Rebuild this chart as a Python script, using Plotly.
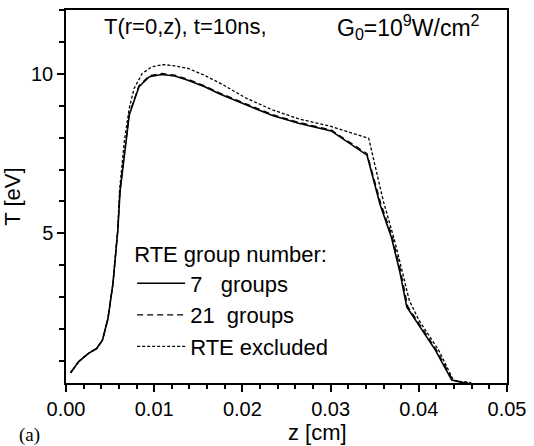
import plotly.graph_objects as go

# ---- data ----
z_7 = [0.00052, 0.00144, 0.00255, 0.00347, 0.00413, 0.00476, 0.00532, 0.00587, 0.00613,
       0.00717, 0.00828, 0.00945, 0.01086, 0.01233, 0.01382, 0.01566, 0.01751, 0.01972,
       0.02047, 0.02341, 0.02637, 0.03006, 0.03413, 0.0356, 0.0369, 0.03782, 0.03864,
       0.03967, 0.04188, 0.04373, 0.04484, 0.0455]
T_7 = [0.63, 0.98, 1.24, 1.39, 1.65, 2.33, 3.42, 5.08, 6.32,
       8.71, 9.60, 9.91, 9.98, 9.93, 9.80, 9.60, 9.36, 9.11,
       9.02, 8.69, 8.45, 8.21, 7.45, 5.91, 4.87, 3.83, 2.69,
       2.27, 1.34, 0.40, 0.33, 0.32]

z_21 = [0.00052, 0.00144, 0.00255, 0.00347, 0.00413, 0.00476, 0.00532, 0.00587, 0.00613,
        0.00717, 0.00828, 0.00945, 0.01086, 0.01233, 0.01382, 0.01566, 0.01751, 0.01972,
        0.02047, 0.02341, 0.02637, 0.03006, 0.03413, 0.0357, 0.0370, 0.03792, 0.03874,
        0.03977, 0.04198, 0.04383, 0.04494, 0.0456]
T_21 = [0.63, 0.98, 1.24, 1.39, 1.65, 2.33, 3.42, 5.10, 6.35,
        8.74, 9.63, 9.94, 10.01, 9.96, 9.83, 9.63, 9.39, 9.14,
        9.05, 8.72, 8.48, 8.24, 7.50, 5.93, 4.89, 3.85, 2.71,
        2.29, 1.36, 0.41, 0.33, 0.32]

z_ex = [0.00052, 0.00144, 0.00255, 0.00347, 0.00413, 0.00476, 0.00532, 0.00587, 0.00606,
        0.00661, 0.00717, 0.00772, 0.00864, 0.00975, 0.01105, 0.01233, 0.01382, 0.01566,
        0.01751, 0.01972, 0.02047, 0.02341, 0.02637, 0.03006, 0.03432, 0.03598, 0.03726,
        0.03819, 0.03892, 0.04003, 0.04225, 0.04391, 0.0445, 0.04595]
T_ex = [0.63, 0.98, 1.24, 1.39, 1.65, 2.33, 3.42, 5.10, 6.32,
        7.88, 8.92, 9.54, 10.01, 10.22, 10.29, 10.25, 10.17, 9.96,
        9.70, 9.36, 9.23, 8.87, 8.59, 8.35, 7.98, 6.01, 4.77,
        3.73, 2.90, 2.27, 1.34, 0.40, 0.36, 0.32]

names = ["7\u00a0\u00a0\u00a0groups", "21\u00a0\u00a0groups", "RTE excluded"]
legend_title = "RTE group number:"
title_left = "T(r=0,z), t=10ns,"
title_right = "G<sub>0</sub>=10<sup>9</sup>W/cm<sup>2</sup>"

FONT = "Liberation Sans, Arial, sans-serif"

fig = go.Figure()
fig.add_trace(go.Scatter(x=z_7, y=T_7, mode="lines", name=names[0],
                         line=dict(color="black", width=1.6, dash="solid")))
fig.add_trace(go.Scatter(x=z_21, y=T_21, mode="lines", name=names[1],
                         line=dict(color="black", width=1.3, dash="6px,4px")))
fig.add_trace(go.Scatter(x=z_ex, y=T_ex, mode="lines", name=names[2],
                         line=dict(color="black", width=1.3, dash="3px,2px")))

fig.update_layout(
    width=534, height=446,
    margin=dict(l=62, r=21, t=8, b=63),
    paper_bgcolor="white", plot_bgcolor="white",
    font=dict(family=FONT, size=20, color="black"),
    showlegend=True,
    legend=dict(
        title=dict(text=legend_title, font=dict(size=22, family=FONT)),
        font=dict(size=22, family=FONT),
        x=0.15, y=0.40, xanchor="left", yanchor="top",
        bgcolor="rgba(0,0,0,0)", borderwidth=0,
        itemwidth=48, tracegroupgap=0,
    ),
)

fig.update_xaxes(
    range=[0, 0.05], dtick=0.01, tick0=0, tickformat=".2f",
    showgrid=False, zeroline=False,
    showline=True, linecolor="black", linewidth=1.5, mirror=True,
    ticks="outside", ticklen=7, tickwidth=1.5, tickcolor="black",
    minor=dict(dtick=0.002, tick0=0, ticks="outside", ticklen=4, tickwidth=1.5, tickcolor="black"),
    tickfont=dict(size=20, family=FONT),
)
fig.update_yaxes(
    range=[0.31, 12.0], dtick=5, tick0=0,
    showgrid=False, zeroline=False,
    showline=True, linecolor="black", linewidth=1.5, mirror=True,
    ticks="outside", ticklen=7, tickwidth=1.5, tickcolor="black",
    minor=dict(dtick=1, tick0=0, ticks="outside", ticklen=5, tickwidth=1.5, tickcolor="black"),
    tickfont=dict(size=20, family=FONT),
    title=dict(text="T [eV]", font=dict(size=22, family=FONT), standoff=8),
)

# x-axis title (placed off-centre as in the reference)
fig.add_annotation(
    text="z [cm]", xref="paper", yref="paper", x=0.57, y=-0.133,
    xanchor="center", yanchor="middle", showarrow=False,
    font=dict(size=22, family=FONT),
)
fig.add_annotation(
    text=title_left, xref="paper", yref="paper", x=0.082, y=0.955,
    xanchor="left", yanchor="middle", showarrow=False,
    font=dict(size=22, family=FONT),
)
fig.add_annotation(
    text=title_right, xref="paper", yref="paper", x=0.61, y=0.955,
    xanchor="left", yanchor="middle", showarrow=False,
    font=dict(size=23, family=FONT),
)
fig.add_annotation(
    text="(a)", xref="paper", yref="paper", x=-0.11, y=-0.139,
    xanchor="left", yanchor="middle", showarrow=False,
    font=dict(size=19, family="Liberation Serif, Times New Roman, serif"),
)

fig.write_html("out.html")
